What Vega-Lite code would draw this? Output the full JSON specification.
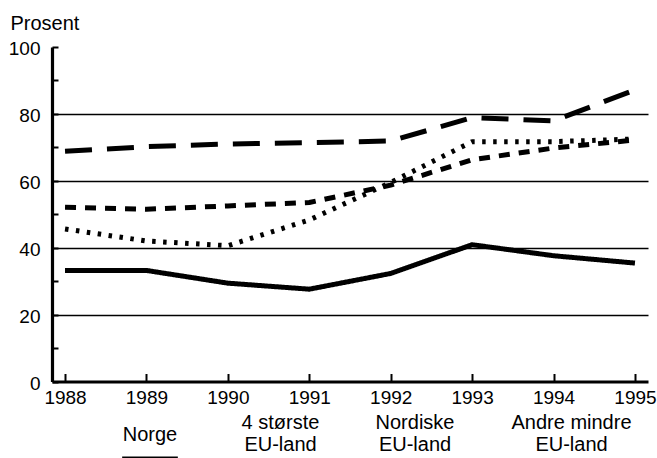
{
  "$schema": "https://vega.github.io/schema/vega-lite/v6.json",
  "width": 596,
  "height": 334.5,
  "autosize": {"type": "none"},
  "padding": {"left": 52, "top": 47, "right": 9, "bottom": 76.5},
  "background": "white",
  "config": {
    "font": "Liberation Sans",
    "view": {"stroke": null},
    "axis": {"labelFont": "Liberation Sans", "labelFontSize": 19, "labelColor": "black", "titleFont": "Liberation Sans", "titleColor": "black"}
  },
  "data": {
    "values": [
      {"år": 1988, "serie": "Norge", "prosent": 33.2},
      {"år": 1989, "serie": "Norge", "prosent": 33.2},
      {"år": 1990, "serie": "Norge", "prosent": 29.4},
      {"år": 1991, "serie": "Norge", "prosent": 27.6},
      {"år": 1992, "serie": "Norge", "prosent": 32.3},
      {"år": 1993, "serie": "Norge", "prosent": 40.9},
      {"år": 1994, "serie": "Norge", "prosent": 37.6},
      {"år": 1995, "serie": "Norge", "prosent": 35.4},
      {"år": 1988, "serie": "4 største EU-land", "prosent": 68.8},
      {"år": 1989, "serie": "4 største EU-land", "prosent": 70.2},
      {"år": 1990, "serie": "4 største EU-land", "prosent": 71.0},
      {"år": 1991, "serie": "4 største EU-land", "prosent": 71.4},
      {"år": 1992, "serie": "4 største EU-land", "prosent": 71.9},
      {"år": 1993, "serie": "4 største EU-land", "prosent": 78.9},
      {"år": 1994, "serie": "4 største EU-land", "prosent": 77.9},
      {"år": 1995, "serie": "4 største EU-land", "prosent": 87.2},
      {"år": 1988, "serie": "Nordiske EU-land", "prosent": 45.6},
      {"år": 1989, "serie": "Nordiske EU-land", "prosent": 42.0},
      {"år": 1990, "serie": "Nordiske EU-land", "prosent": 40.6},
      {"år": 1991, "serie": "Nordiske EU-land", "prosent": 48.3},
      {"år": 1992, "serie": "Nordiske EU-land", "prosent": 59.5},
      {"år": 1993, "serie": "Nordiske EU-land", "prosent": 71.7},
      {"år": 1994, "serie": "Nordiske EU-land", "prosent": 71.7},
      {"år": 1995, "serie": "Nordiske EU-land", "prosent": 72.5},
      {"år": 1988, "serie": "Andre mindre EU-land", "prosent": 52.1},
      {"år": 1989, "serie": "Andre mindre EU-land", "prosent": 51.5},
      {"år": 1990, "serie": "Andre mindre EU-land", "prosent": 52.5},
      {"år": 1991, "serie": "Andre mindre EU-land", "prosent": 53.5},
      {"år": 1992, "serie": "Andre mindre EU-land", "prosent": 58.7},
      {"år": 1993, "serie": "Andre mindre EU-land", "prosent": 66.3},
      {"år": 1994, "serie": "Andre mindre EU-land", "prosent": 69.8},
      {"år": 1995, "serie": "Andre mindre EU-land", "prosent": 72.2}
    ]
  },
  "mark": {"type": "line", "color": "black", "strokeWidth": 5, "strokeCap": "butt", "strokeJoin": "round"},
  "encoding": {
    "x": {
      "field": "år",
      "type": "quantitative",
      "scale": {"domain": [1987.84, 1995.16], "nice": false, "zero": false},
      "axis": {
        "title": null,
        "values": [1988, 1989, 1990, 1991, 1992, 1993, 1994, 1995],
        "format": "d",
        "grid": false,
        "domainColor": "black",
        "domainWidth": 3.2,
        "tickColor": "black",
        "tickWidth": 2,
        "tickSize": -8,
        "labelPadding": 15,
        "labelFlush": false,
        "labelOverlap": false
      }
    },
    "y": {
      "field": "prosent",
      "type": "quantitative",
      "scale": {"domain": [0, 100], "nice": false},
      "axis": {
        "title": "Prosent",
        "titleAngle": 0,
        "titleAlign": "left",
        "titleBaseline": "alphabetic",
        "titleX": -42,
        "titleY": -17.5,
        "titleFontSize": 20,
        "titleFontWeight": "normal",
        "values": [0, 10, 20, 30, 40, 50, 60, 70, 80, 90, 100],
        "labelExpr": "datum.value % 20 == 0 ? datum.label : ''",
        "labelPadding": 18,
        "labelOffset": 1.5,
        "labelFlush": false,
        "labelOverlap": false,
        "domainColor": "black",
        "domainWidth": 3.2,
        "tickColor": "black",
        "tickWidth": 2,
        "tickSize": -6,
        "grid": true,
        "gridColor": "black",
        "gridWidth": 1.7,
        "gridOpacity": {"condition": {"test": "datum.value % 20 == 0 && datum.value > 0 && datum.value < 100", "value": 1}, "value": 0}
      }
    },
    "strokeDash": {
      "field": "serie",
      "type": "nominal",
      "scale": {
        "domain": ["Norge", "4 største EU-land", "Nordiske EU-land", "Andre mindre EU-land"],
        "range": [[1, 0], [27, 15], [3.5, 7.5], [11, 9]]
      },
      "legend": {
        "title": null,
        "orient": "none",
        "legendX": 68,
        "legendY": 376,
        "direction": "horizontal",
        "columns": 4,
        "columnPadding": 55.5,
        "padding": 0,
        "symbolType": "stroke",
        "symbolSize": 3100,
        "symbolStrokeWidth": 4,
        "symbolStrokeColor": "black",
        "labelFont": "Liberation Sans",
        "labelFontSize": 20,
        "labelColor": "black",
        "labelLimit": 0,
        "labelAlign": "center",
        "labelBaseline": "middle",
        "labelExpr": "datum.label == 'Norge' ? 'Norge' : [replace(datum.label, ' EU-land', ''), 'EU-land']",
        "encode": {
          "labels": {"update": {"x": {"signal": "datum.offset * 0.5"}, "y": {"value": 0}, "lineHeight": {"value": 22}}},
          "symbols": {"update": {"y": {"signal": "datum.label == 'Norge' ? 24 : 47"}}}
        }
      }
    }
  }
}
